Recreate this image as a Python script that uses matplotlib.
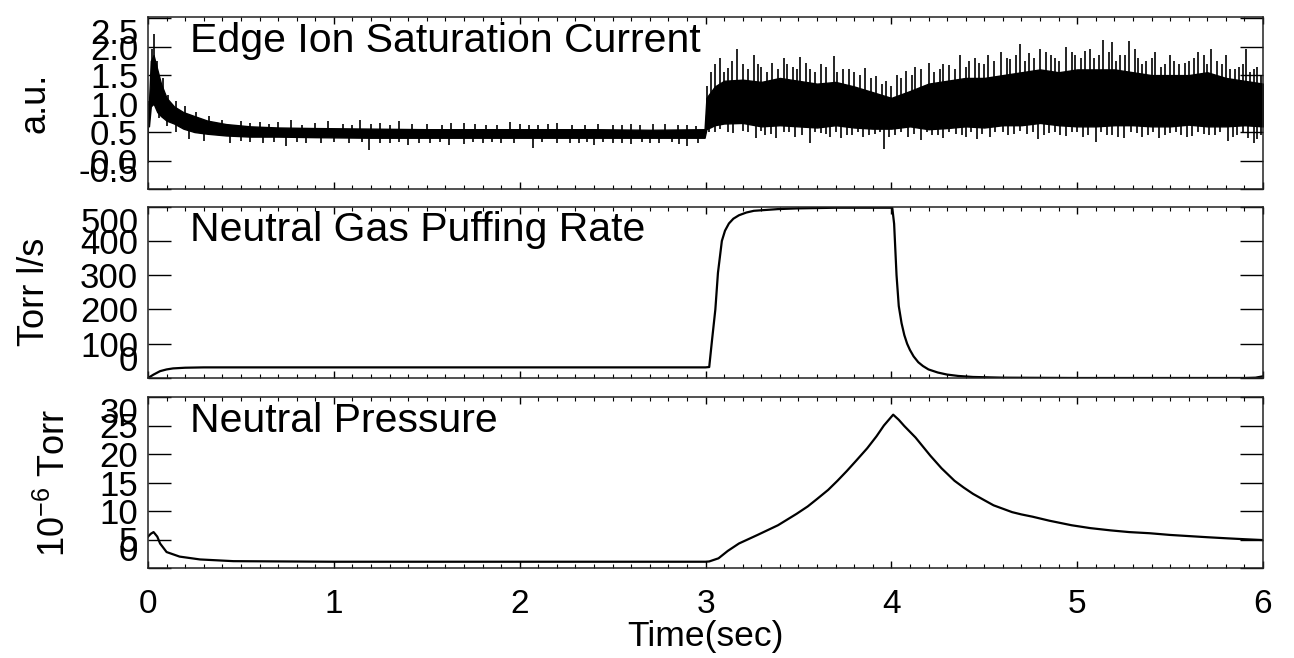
import matplotlib
matplotlib.use('Agg')
import matplotlib.pyplot as plt
import numpy as np

plt.rcParams['font.family'] = ['Liberation Sans', 'DejaVu Sans']
plt.rcParams['mathtext.fontset'] = 'custom'
plt.rcParams['mathtext.rm'] = 'Liberation Sans'

# ---- 上图: 边缘离子饱和电流 (噪声信号, 用包络 + 尖峰表示) ----
t_core = [0.005, 0.015, 0.03, 0.05, 0.07, 0.1, 0.14, 0.19, 0.25, 0.32, 0.42, 0.55, 0.7, 0.9,
          1.2, 1.5, 1.8, 2.1, 2.4, 2.7, 2.995, 3.005, 3.05, 3.1, 3.2, 3.3, 3.4, 3.5, 3.6, 3.7,
          3.8, 3.9, 4.0, 4.1, 4.2, 4.3, 4.4, 4.5, 4.6, 4.7, 4.8, 4.9, 5.0, 5.1, 5.2, 5.3, 5.4,
          5.5, 5.6, 5.7, 5.8, 5.9, 6.0]
core_hi = [1.0, 1.75, 1.85, 1.6, 1.35, 1.1, 0.95, 0.85, 0.78, 0.7, 0.64, 0.6, 0.58, 0.57,
           0.56, 0.55, 0.55, 0.55, 0.55, 0.54, 0.55, 1.1, 1.3, 1.4, 1.42, 1.38, 1.45, 1.4, 1.35, 1.38,
           1.3, 1.2, 1.1, 1.22, 1.35, 1.4, 1.45, 1.45, 1.5, 1.55, 1.6, 1.55, 1.6, 1.6, 1.6, 1.55, 1.5,
           1.5, 1.5, 1.55, 1.45, 1.4, 1.35]
core_lo = [0.6, 0.95, 1.0, 0.85, 0.78, 0.7, 0.65, 0.56, 0.5, 0.47, 0.44, 0.42, 0.42, 0.41,
           0.4, 0.4, 0.4, 0.4, 0.4, 0.4, 0.4, 0.55, 0.62, 0.65, 0.66, 0.6, 0.62, 0.6, 0.58, 0.62,
           0.58, 0.56, 0.56, 0.6, 0.55, 0.57, 0.6, 0.58, 0.62, 0.62, 0.66, 0.62, 0.6, 0.6, 0.62, 0.62, 0.6,
           0.6, 0.63, 0.6, 0.6, 0.62, 0.6]

# 向上的尖峰 (时间, 峰值)
up_t = [0.0, 0.02, 0.03, 0.05, 0.08, 0.11, 0.15, 0.2, 0.26, 0.33, 0.4, 0.5, 0.55, 0.6, 0.65, 0.7,
        0.77, 0.83, 0.9, 0.97, 1.05, 1.1, 1.14, 1.2, 1.25, 1.3, 1.35, 1.42, 1.5, 1.58, 1.63, 1.7,
        1.76, 1.82, 1.88, 1.95, 2.0, 2.05, 2.1, 2.15, 2.2, 2.28, 2.35, 2.42, 2.5, 2.55, 2.6, 2.65,
        2.72, 2.78, 2.85, 2.9, 2.95]
up_v = [1.05, 1.95, 2.22, 1.75, 1.45, 1.15, 1.05, 0.95, 0.85, 0.78, 0.72, 0.7, 0.66, 0.68, 0.64, 0.67,
        0.72, 0.63, 0.66, 0.7, 0.65, 0.62, 0.72, 0.64, 0.66, 0.63, 0.7, 0.65, 0.64, 0.62, 0.66, 0.66,
        0.64, 0.62, 0.63, 0.68, 0.65, 0.62, 0.63, 0.64, 0.66, 0.63, 0.62, 0.65, 0.63, 0.62, 0.64, 0.62,
        0.64, 0.65, 0.62, 0.63, 0.61]
up2_t = [3.01, 3.03, 3.05, 3.08, 3.1, 3.12, 3.14, 3.17, 3.2, 3.23, 3.26, 3.28, 3.3, 3.33, 3.36,
         3.39, 3.42, 3.44, 3.47, 3.49, 3.51, 3.54, 3.56, 3.59, 3.62, 3.65, 3.69, 3.71, 3.74, 3.77,
         3.8, 3.83, 3.86, 3.89, 3.92, 3.95, 3.97, 4.0, 4.03, 4.05, 4.08, 4.11, 4.13, 4.16, 4.2,
         4.23, 4.26, 4.28, 4.31, 4.34, 4.37, 4.4, 4.42, 4.45, 4.47, 4.5, 4.52, 4.55, 4.59, 4.62,
         4.64, 4.67, 4.69, 4.72, 4.74, 4.77, 4.8, 4.83, 4.86, 4.88, 4.9, 4.94, 4.97, 4.99, 5.02,
         5.04, 5.07, 5.09, 5.12, 5.14, 5.17, 5.19, 5.21, 5.23, 5.26, 5.28, 5.31, 5.33, 5.35, 5.37,
         5.4, 5.42, 5.45, 5.47, 5.5, 5.52, 5.55, 5.58, 5.6, 5.63, 5.65, 5.68, 5.7, 5.72, 5.75,
         5.78, 5.8, 5.82, 5.85, 5.87, 5.89, 5.91, 5.93, 5.95, 5.97, 5.99]
up2_v = [1.3, 1.55, 1.7, 1.8, 1.55, 1.62, 1.75, 1.96, 1.7, 1.6, 1.85, 1.7, 1.65, 1.55, 1.72,
         1.6, 1.8, 1.7, 1.65, 1.6, 1.82, 1.72, 1.6, 1.55, 1.7, 1.65, 1.83, 1.55, 1.6, 1.6,
         1.55, 1.5, 1.62, 1.45, 1.48, 1.35, 1.4, 1.3, 1.5, 1.45, 1.58, 1.5, 1.65, 1.6, 1.72,
         1.55, 1.6, 1.7, 1.68, 1.6, 1.85, 1.65, 1.75, 1.8, 1.72, 1.7, 1.85, 1.75, 1.9, 1.8,
         1.78, 1.85, 2.05, 1.75, 1.88, 1.8, 1.95, 1.9, 1.85, 1.8, 1.75, 2.0, 1.9, 1.85, 1.8,
         1.92, 1.95, 1.8, 1.85, 2.12, 1.9, 2.08, 1.75, 1.85, 1.85, 2.1, 1.95, 1.8, 1.7, 1.75,
         1.8, 1.9, 1.65, 1.7, 1.85, 1.75, 1.7, 1.72, 1.75, 1.8, 1.9, 1.85, 1.7, 1.95, 1.75,
         1.7, 1.85, 1.6, 1.6, 1.65, 1.7, 1.95, 1.55, 1.6, 1.65, 1.5]

# 向下的尖峰 (时间, 谷值)
down_t = [0.0, 0.06, 0.1, 0.15, 0.22, 0.3, 0.44, 0.5, 0.55, 0.62, 0.68, 0.74, 0.8, 0.85, 0.93,
          1.0, 1.08, 1.15, 1.19, 1.25, 1.3, 1.35, 1.4, 1.46, 1.52, 1.57, 1.62, 1.7, 1.75, 1.8,
          1.85, 1.9, 1.97, 2.07, 2.12, 2.2, 2.27, 2.32, 2.36, 2.4, 2.45, 2.5, 2.55, 2.6, 2.66,
          2.7, 2.75, 2.82, 2.86, 2.9, 2.96]
down_v = [-0.05, 0.75, 0.6, 0.5, 0.38, 0.35, 0.3, 0.34, 0.33, 0.31, 0.33, 0.25, 0.32, 0.3, 0.31,
          0.32, 0.3, 0.33, 0.19, 0.31, 0.3, 0.32, 0.27, 0.31, 0.3, 0.33, 0.28, 0.29, 0.32, 0.31,
          0.33, 0.3, 0.31, 0.22, 0.32, 0.3, 0.3, 0.31, 0.33, 0.28, 0.32, 0.3, 0.31, 0.29, 0.32,
          0.3, 0.31, 0.32, 0.29, 0.26, 0.3]
down2_t = [3.02, 3.05, 3.08, 3.12, 3.15, 3.2, 3.23, 3.27, 3.3, 3.32, 3.35, 3.38, 3.42, 3.45,
           3.48, 3.52, 3.56, 3.59, 3.62, 3.65, 3.67, 3.7, 3.73, 3.76, 3.79, 3.82, 3.85, 3.88,
           3.91, 3.94, 3.96, 3.99, 4.02, 4.05, 4.09, 4.12, 4.16, 4.19, 4.22, 4.25, 4.28, 4.31,
           4.35, 4.38, 4.4, 4.43, 4.46, 4.49, 4.53, 4.56, 4.6, 4.63, 4.66, 4.69, 4.73, 4.76,
           4.79, 4.82, 4.85, 4.88, 4.91, 4.94, 4.97, 5.0, 5.03, 5.06, 5.1, 5.13, 5.16, 5.19,
           5.22, 5.25, 5.29, 5.32, 5.35, 5.38, 5.41, 5.44, 5.47, 5.5, 5.53, 5.56, 5.59, 5.62,
           5.65, 5.68, 5.71, 5.74, 5.77, 5.81, 5.84, 5.86, 5.89, 5.92, 5.95, 5.97, 5.99]
down2_v = [0.5, 0.5, 0.55, 0.5, 0.48, 0.52, 0.5, 0.4, 0.52, 0.45, 0.46, 0.4, 0.5, 0.5,
           0.42, 0.45, 0.3, 0.5, 0.48, 0.46, 0.42, 0.5, 0.4, 0.44, 0.45, 0.5, 0.42, 0.45,
           0.46, 0.5, 0.2, 0.42, 0.45, 0.5, 0.42, 0.46, 0.36, 0.5, 0.45, 0.44, 0.4, 0.5,
           0.47, 0.45, 0.42, 0.5, 0.38, 0.46, 0.42, 0.5, 0.5, 0.45, 0.47, 0.52, 0.46, 0.5,
           0.38, 0.44, 0.48, 0.5, 0.45, 0.43, 0.5, 0.5, 0.42, 0.45, 0.33, 0.5, 0.45, 0.45,
           0.42, 0.4, 0.5, 0.48, 0.42, 0.45, 0.5, 0.4, 0.45, 0.48, 0.5, 0.44, 0.42, 0.43,
           0.5, 0.47, 0.44, 0.45, 0.5, 0.34, 0.42, 0.45, 0.5, 0.4, 0.3, 0.38, 0.45]

# ---- 中图: 中性气体注入速率 ----
t_puff = [0, 0.03, 0.065, 0.1, 0.135, 0.2, 0.3, 1.0, 2.0, 3.0, 3.02, 3.035, 3.053, 3.067, 3.088,
          3.105, 3.126, 3.15, 3.18, 3.22, 3.26, 3.39, 3.49, 3.7, 3.9, 4.005, 4.015, 4.028, 4.04,
          4.055, 4.07, 4.085, 4.1, 4.12, 4.145, 4.17, 4.2, 4.25, 4.3, 4.36, 4.44, 4.6, 5.0, 5.5,
          5.9, 5.96, 6.0]
puff = [0, 10, 20, 25, 28, 30, 31, 31, 31, 31, 32, 110, 200, 307, 400,
        430, 451, 465, 475, 483, 488, 493, 495, 497, 497, 497, 450, 300, 210,
        160, 125, 100, 82, 63, 46, 35, 25, 16, 10, 6, 3, 1, 0, 0,
        0, 1, 5]

# ---- 下图: 中性气压 ----
t_pres = [0, 0.015, 0.03, 0.05, 0.065, 0.1, 0.17, 0.28, 0.46, 1.0, 2.0, 3.0, 3.02, 3.07, 3.12,
          3.18, 3.28, 3.39, 3.49, 3.55, 3.6, 3.66, 3.71, 3.76, 3.81, 3.87, 3.92, 3.96, 4.01,
          4.04, 4.07, 4.1, 4.13, 4.17, 4.21, 4.27, 4.34, 4.39, 4.44, 4.5, 4.55, 4.6, 4.65, 4.7,
          4.76, 4.85, 4.97, 5.07, 5.18, 5.28, 5.39, 5.5, 5.6, 5.7, 5.81, 5.9, 6.0]
pres = [5.5, 6.0, 6.3, 5.5, 4.3, 2.8, 2.0, 1.5, 1.2, 1.1, 1.1, 1.1, 1.15, 1.7, 3.0,
        4.3, 5.8, 7.5, 9.5, 10.8, 12.1, 13.7, 15.3, 17.0, 18.8, 21.0, 23.1, 25.0, 26.9,
        26.0, 24.9, 23.9, 22.9, 21.3, 19.7, 17.5, 15.3, 14.1, 13.0, 11.9, 11.0, 10.4, 9.8, 9.4,
        9.0, 8.3, 7.5, 7.0, 6.6, 6.3, 6.1, 5.8, 5.6, 5.4, 5.2, 5.05, 4.9]

titles = ['Edge Ion Saturation Current', 'Neutral Gas Puffing Rate', 'Neutral Pressure']
ylabels = ['a.u.', 'Torr l/s', r'$\mathregular{10^{-6}}$ Torr']
yticks = [[-0.5, 0.0, 0.5, 1.0, 1.5, 2.0, 2.5], [0, 100, 200, 300, 400, 500], [0, 5, 10, 15, 20, 25, 30]]
yticklabels = [['-0.5', '0.0', '0.5', '1.0', '1.5', '2.0', '2.5'],
               ['0', '100', '200', '300', '400', '500'],
               ['0', '5', '10', '15', '20', '25', '30']]
ylims = [(-0.5, 2.52), (0, 500), (0, 30)]

fig = plt.figure(figsize=(12.94, 6.58), dpi=100)
W, H = 1294.0, 658.0
boxes = [(17, 189), (206.7, 378), (397, 568)]
axes = []
for top, bot in boxes:
    axes.append(fig.add_axes([148 / W, 1 - bot / H, 1115 / W, (bot - top) / H]))

ax1, ax2, ax3 = axes

# 上图: 实心带 + 上下尖峰
ax1.fill_between(t_core, core_lo, core_hi, color='black', lw=1.0)
mid = (np.array(core_lo) + np.array(core_hi)) / 2
for ts, vs in [(up_t, up_v), (up2_t, up2_v), (down_t, down_v), (down2_t, down2_v)]:
    ax1.vlines(ts, np.interp(ts, t_core, mid), vs, color='black', lw=1.2)

ax2.plot(t_puff, puff, color='black', lw=1.6)
ax3.plot(t_pres, pres, color='black', lw=1.6)

for i, ax in enumerate(axes):
    ax.set_xlim(0, 6)
    ax.set_ylim(*ylims[i])
    ax.set_xticks(range(7))
    ax.set_xticks(np.arange(0, 6.01, 0.1), minor=True)
    ax.set_yticks(yticks[i])
    ax.set_yticklabels(yticklabels[i])
    ax.tick_params(axis='x', which='major', direction='in', length=5, width=1, top=True, bottom=True,
                   labelsize=24, pad=15)
    ax.tick_params(axis='x', which='minor', direction='in', length=3, width=0.8, top=True, bottom=True)
    ax.tick_params(axis='y', which='major', direction='in', length=16.5, width=1, left=True, right=True,
                   labelsize=25, pad=7)
    if i < 2:
        ax.tick_params(axis='x', labelbottom=False)
    for s in ax.spines.values():
        s.set_linewidth(1.1)
        s.set_color('#222222')
    labs = ax.get_yticklabels()
    labs[0].set_va('bottom')
    labs[-1].set_va('top')
    ax.text(0.0377, 0.797, titles[i], transform=ax.transAxes, fontsize=29.5, va='baseline', ha='left')
    ax.set_ylabel(ylabels[i], fontsize=26)

ax1.yaxis.set_label_coords(-0.086, 0.5)
ax2.yaxis.set_label_coords(-0.086, 0.5)
ax3.yaxis.set_label_coords(-0.067, 0.5)

ax3.set_xlabel('Time(sec)', fontsize=25.5, labelpad=0)

plt.savefig('out.png', dpi=100)
